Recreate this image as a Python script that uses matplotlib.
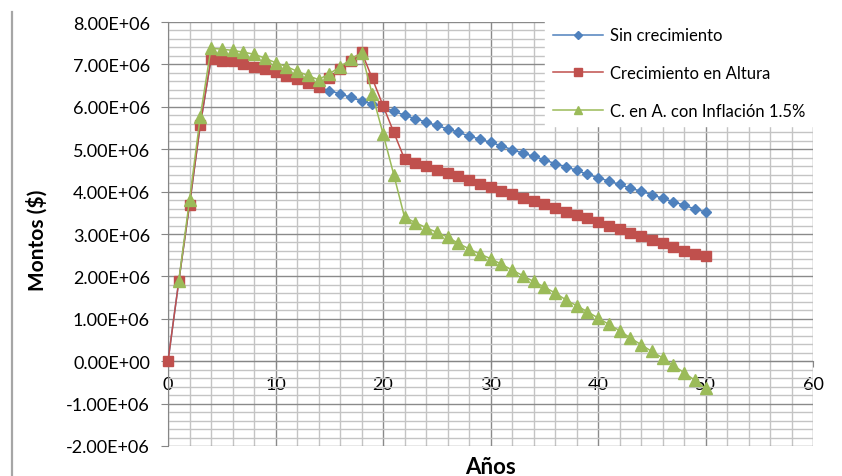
import matplotlib
matplotlib.use("Agg")
import matplotlib.pyplot as plt
from matplotlib.ticker import MultipleLocator, FuncFormatter
from matplotlib.lines import Line2D

plt.rcParams['font.family'] = ['Lato', 'DejaVu Sans']

# Años 0..50
years = list(range(0, 51))
years_inflacion = list(range(1, 51))

# Montos en millones de $
sin_crecimiento = [
    0.00, 1.88, 3.69, 5.57, 7.12, 7.09, 7.07, 7.01, 6.95, 6.89,
    6.81, 6.73, 6.65, 6.56, 6.47, 6.38, 6.31, 6.22, 6.14, 6.07,
    5.99, 5.90, 5.80, 5.72, 5.64, 5.56, 5.48, 5.40, 5.31, 5.24,
    5.16, 5.08, 4.99, 4.91, 4.83, 4.75, 4.66, 4.59, 4.50, 4.41,
    4.33, 4.25, 4.17, 4.08, 4.01, 3.93, 3.84, 3.76, 3.68, 3.59,
    3.52,
]
crecimiento_altura = [
    0.00, 1.88, 3.69, 5.57, 7.12, 7.09, 7.07, 7.01, 6.95, 6.89,
    6.81, 6.73, 6.65, 6.56, 6.47, 6.68, 6.90, 7.09, 7.30, 6.67,
    6.03, 5.40, 4.77, 4.68, 4.61, 4.52, 4.44, 4.37, 4.28, 4.19,
    4.10, 4.02, 3.95, 3.86, 3.78, 3.70, 3.61, 3.53, 3.45, 3.37,
    3.28, 3.19, 3.12, 3.03, 2.95, 2.87, 2.79, 2.70, 2.61, 2.54,
    2.47,
]
con_inflacion = [
    1.90, 3.80, 5.77, 7.38, 7.36, 7.33, 7.29, 7.24, 7.15,
    7.04, 6.95, 6.84, 6.74, 6.64, 6.78, 6.94, 7.12, 7.27, 6.30,
    5.37, 4.40, 3.40, 3.27, 3.15, 3.04, 2.93, 2.78, 2.65, 2.53,
    2.42, 2.29, 2.15, 2.02, 1.88, 1.75, 1.61, 1.45, 1.31, 1.17,
    1.02, 0.87, 0.72, 0.55, 0.39, 0.23, 0.08, -0.10, -0.27, -0.45,
    -0.64,
]

series_labels = ["Sin crecimiento", "Crecimiento en Altura", "C. en A. con Inflación 1.5%"]
x_ticks = [0, 10, 20, 30, 40, 50, 60]
y_ticks = [-2e6, -1e6, 0, 1e6, 2e6, 3e6, 4e6, 5e6, 6e6, 7e6, 8e6]

BLUE = "#4F81BD"
RED = "#C0504D"
GREEN = "#9BBB59"

fig = plt.figure(figsize=(8.42, 4.77), dpi=100)
ax = fig.add_axes([168 / 842, 1 - 447 / 477, (813 - 168) / 842, (447 - 23) / 477])

scale = 1e6
ax.plot(years, [v * scale for v in sin_crecimiento], color=BLUE, lw=1.1,
        marker="D", ms=5.6, mec=BLUE, mfc=BLUE, label=series_labels[0], zorder=3,
        clip_on=False)
ax.plot(years, [v * scale for v in crecimiento_altura], color=RED, lw=1.1,
        marker="s", ms=7.0, mec=RED, mfc=RED, label=series_labels[1], zorder=4,
        clip_on=False)
ax.plot(years_inflacion, [v * scale for v in con_inflacion], color=GREEN, lw=1.1,
        marker="^", ms=8.0, mec=GREEN, mfc=GREEN, label=series_labels[2], zorder=5,
        clip_on=False)

ax.set_xlim(0, 60)
ax.set_ylim(-2e6, 8e6)
ax.set_xticks(x_ticks)
ax.set_yticks(y_ticks)
ax.xaxis.set_minor_locator(MultipleLocator(2))
ax.yaxis.set_minor_locator(MultipleLocator(2e5))
ax.yaxis.set_major_formatter(FuncFormatter(lambda v, p: f"{v:.2E}"))

ax.grid(which="minor", color="#c4c4c4", lw=1.0)
ax.grid(which="major", color="#8a8a8a", lw=1.0)
ax.set_axisbelow(True)

for s in ("top", "right"):
    ax.spines[s].set_visible(False)
ax.spines["left"].set_color("#868686")
ax.spines["bottom"].set_color("#868686")
ax.spines["bottom"].set_position(("data", 0))

ax.tick_params(which="minor", length=0)
ax.tick_params(axis="y", which="major", length=5, color="#868686", labelsize=13, pad=8, labelcolor="#000000")
ax.tick_params(axis="x", which="major", length=4, color="#868686", labelsize=13, pad=7, labelcolor="#000000")

fig.text(37 / 842, 1 - 240 / 477, "Montos ($)", rotation=90, ha="center", va="center",
         fontsize=15, fontweight="bold")
fig.text(490 / 842, 1 - 468 / 477, "Años", ha="center", va="center",
         fontsize=16, fontweight="bold")

# Excel-style chart border on the left edge
fig.add_artist(Line2D([12 / 842, 12 / 842], [0, 1 - 13 / 477], transform=fig.transFigure,
                      color="#a6a6a6", lw=1.6))

handles, labels = ax.get_legend_handles_labels()
leg = fig.legend(handles, labels, loc="upper left",
                 bbox_to_anchor=(545 / 842, 1 - 21 / 477, (842 - 545) / 842, 0.0),
                 mode="expand", borderaxespad=0, borderpad=0.45,
                 fontsize=12, handlelength=3.05, handletextpad=0.42,
                 labelspacing=1.3, frameon=True, fancybox=False,
                 framealpha=1, edgecolor="white", facecolor="white", markerscale=0.75)

fig.savefig("out.png", dpi=100)
